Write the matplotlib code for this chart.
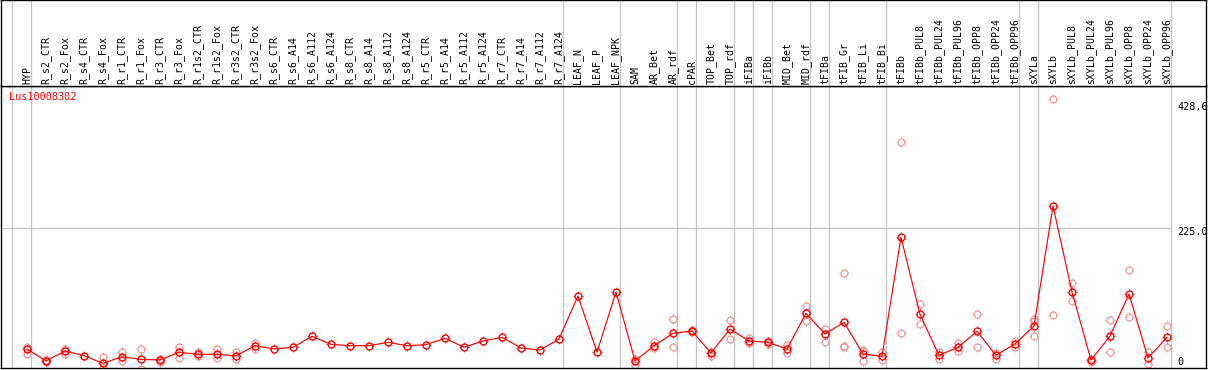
import numpy as np
import matplotlib
matplotlib.use("Agg")
import matplotlib.pyplot as plt
from matplotlib.path import Path
from matplotlib import transforms

nan = float("nan")

gene = "Lus10008302"

samples = ["HYP", "R_s2_CTR", "R_s2_Fox", "R_s4_CTR", "R_s4_Fox", "R_r1_CTR", "R_r1_Fox",
           "R_r3_CTR", "R_r3_Fox", "R_r1s2_CTR", "R_r1s2_Fox", "R_r3s2_CTR", "R_r3s2_Fox",
           "R_s6_CTR", "R_s6_A14", "R_s6_A112", "R_s6_A124", "R_s8_CTR", "R_s8_A14",
           "R_s8_A112", "R_s8_A124", "R_r5_CTR", "R_r5_A14", "R_r5_A112", "R_r5_A124",
           "R_r7_CTR", "R_r7_A14", "R_r7_A112", "R_r7_A124", "LEAF_N", "LEAF_P", "LEAF_NPK",
           "SAM", "AR_Bet", "AR_rdf", "cPAR", "TOP_Bet", "TOP_rdf", "iFIBa", "iFIBb",
           "MID_Bet", "MID_rdf", "tFIBa", "tFIB_Gr", "tFIB_Li", "tFIB_Bi", "tFIBb",
           "tFIBb_PUL8", "tFIBb_PUL24", "tFIBb_PUL96", "tFIBb_OPP8", "tFIBb_OPP24",
           "tFIBb_OPP96", "sXYLa", "sXYLb", "sXYLb_PUL8", "sXYLb_PUL24", "sXYLb_PUL96",
           "sXYLb_OPP8", "sXYLb_OPP24", "sXYLb_OPP96"]

mean_values = [33.9, 15.0, 30.7, 23.3, 11.3, 21.7, 17.6, 16.5, 28.7, 25.5,
               25.5, 23.3, 39.1, 33.9, 36.6, 53.9, 41.3, 39.1, 39.1, 44.4,
               39.1, 40.7, 50.7, 36.6, 46.5, 52.3, 35.5, 32.3, 49.6, 117.4,
               28.7, 123.7, 15.0, 39.1, 58.6, 62.2, 27.6, 65.4, 46.5, 44.4,
               33.9, 90.1, 57.5, 76.0, 26.0, 22.4, 209.9, 88.6, 24.0, 36.6,
               61.8, 24.0, 41.8, 70.1, 259.2, 123.7, 16.5, 54.4, 120.5, 19.7, 52.3]

rep_a = [37.5, 16.5, 33.4, nan, 20.8, 29.2, 33.4, 18.6, 36.6, 29.6,
         33.9, 29.6, 43.8, nan, nan, nan, nan, nan, nan, nan,
         nan, nan, nan, nan, nan, nan, nan, nan, nan, nan,
         nan, nan, 17.6, 45.4, 80.7, 63.5, 29.6, 79.6, 50.7, 47.0,
         40.7, 101.6, 64.9, 153.2, 33.0, 29.6, 359.6, 104.8, 29.2, 43.8,
         88.6, 28.0, 47.0, 81.6, 428.6, 137.9, 18.6, 79.6, 157.9, 29.2, 70.1]

rep_b = [25.5, 12.9, 26.0, nan, 3.5, 15.0, 1.9, 12.9, 20.2, 22.8,
         20.2, 17.6, 33.9, nan, nan, nan, nan, nan, nan, nan,
         nan, nan, nan, nan, nan, nan, nan, nan, nan, nan,
         nan, nan, 8.7, 35.0, 36.6, 61.0, 22.8, 49.2, 43.8, 41.3,
         27.1, 78.5, 45.4, 36.6, 31.0, 16.5, 58.6, 72.8, 18.6, 31.2,
         36.6, 18.6, 37.5, 77.5, 87.0, 109.0, 13.9, 29.2, 83.8, 9.8, 37.0]

rep_c = [nan] * 43 + [38.2, 15.4] + [nan] * 8 + [54.4] + [nan] * 7

# group separators sit just after these sample positions (0 = before the first)
separator_after = [0, 1, 29, 32, 35, 36, 38, 39, 40, 42, 43, 46, 53, 54, 61]

axis_labels = ["428.6", "225.0", "0"]
axis_values = [428.6, 225.0, 0.0]
grid_value = 225.0

# ---------------------------------------------------------------- layout
W, H = 1209, 370
fig = plt.figure(figsize=(W / 100, H / 100), dpi=100)
fig.patch.set_facecolor("white")

head_bottom_px = 86
plot_bottom_px = 368
left_px, right_px = 1, 1206

ax = fig.add_axes([left_px / W, (H - plot_bottom_px) / H,
                   (right_px - left_px) / W, (plot_bottom_px - head_bottom_px) / H])
hx = fig.add_axes([left_px / W, (H - head_bottom_px) / H,
                   (right_px - left_px) / W, head_bottom_px / H])

x = np.arange(1, len(samples) + 1)
xlim = (-7 / 19, 1198 / 19)
for a in (ax, hx):
    a.set_xlim(*xlim)
    a.set_xticks([])
    a.set_yticks([])
    for s in a.spines.values():
        s.set_color("black")
        s.set_linewidth(1.0)

ax.set_ylim(3.94, 448.3)
hx.set_ylim(head_bottom_px, 0)

grey = "#c4c4c4"
for s in separator_after:
    for a in (ax, hx):
        a.axvline(s + 0.195, color=grey, lw=0.9, zorder=1)
ax.hlines(grid_value, xlim[0], separator_after[-1] + 0.195, color=grey, lw=0.9, zorder=1)

# small tick stubs around each ring marker
tick_verts = [(0, 1.0), (0, 1.3), (0, -1.0), (0, -1.3),
              (1.0, 0), (1.3, 0), (-1.0, 0), (-1.3, 0)]
tick_codes = [Path.MOVETO, Path.LINETO] * 4
ticks = Path(tick_verts, tick_codes)

ms = 5.0
pink = "#f09494"
red = "#ff0000"


def ring(values, color, lw, z):
    ax.plot(x, values, linestyle="none", marker="o", markersize=ms,
            markerfacecolor="none", markeredgecolor=color, markeredgewidth=lw, zorder=z)
    ax.plot(x, values, linestyle="none", marker=ticks, markersize=ms * 1.3,
            markerfacecolor="none", markeredgecolor=color, markeredgewidth=0.5, zorder=z)


for reps in (rep_a, rep_b, rep_c):
    ring(reps, pink, 0.85, 2)

ax.plot(x, mean_values, color=red, lw=0.85, zorder=3)
ring(mean_values, red, 1.0, 4)

mono = "DejaVu Sans Mono"
for xi, lab in zip(x, samples):
    hx.text(xi, 83.5, lab, rotation=90, ha="center", va="bottom",
            fontsize=7.1, family=mono, color="black")

fig.text(9 / W, 1 - 97.5 / H, gene, color=red, fontsize=7.3, family=mono,
         ha="left", va="center")

label_x = (1177 - 8) / 19
offsets_px = [-8.5, -4.3, 8.5]
for val, lab, off in zip(axis_values, axis_labels, offsets_px):
    tr = transforms.offset_copy(ax.transData, fig=fig, y=off, units="dots")
    ax.text(label_x, val, lab, transform=tr, ha="left", va="center",
            fontsize=7.3, family=mono, color="black", clip_on=False, zorder=6)

fig.savefig("out.png", dpi=100, facecolor="white")
